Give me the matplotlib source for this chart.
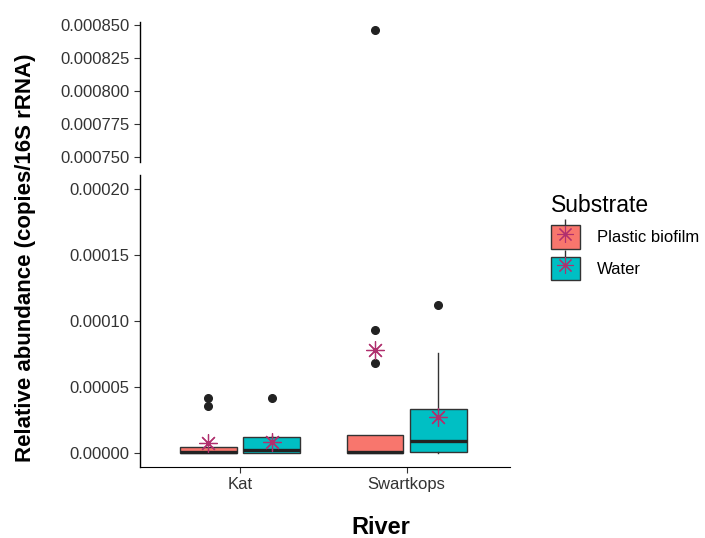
import numpy as np
import matplotlib.pyplot as plt
from matplotlib.patches import Patch
from matplotlib.lines import Line2D
from matplotlib.legend_handler import HandlerTuple

plt.rcParams['font.family'] = ['Liberation Sans', 'DejaVu Sans']

# data
rivers = ['Kat', 'Swartkops']
substrates = ['Plastic biofilm', 'Water']
colours = ['#F8766D', '#00BFC4']
mean_col = '#B0306E'

# box stats per river, per substrate
q1 = [[0.0, 0.0], [0.0, 0.8e-6]]
med = [[0.8e-6, 2.3e-6], [0.5e-6, 9.1e-6]]
q3 = [[4.6e-6, 1.2e-5], [1.4e-5, 3.35e-5]]
whislo = [[0.0, 0.0], [0.0, 0.0]]
whishi = [[4.6e-6, 1.3e-5], [1.4e-5, 7.6e-5]]
fliers = [[[4.2e-5, 3.6e-5], [4.2e-5]],
          [[9.3e-5, 6.8e-5, 0.000846], [0.000112]]]
means = [[7.6e-6, 8.4e-6], [7.8e-5, 2.7e-5]]

fig = plt.figure(figsize=(7.05, 5.38), dpi=100)
ax_top = fig.add_axes([0.1986, 0.699, 0.5248, 0.260])
ax = fig.add_axes([0.1986, 0.132, 0.5248, 0.5428])

dodge = 0.19
width = 0.34
for a in (ax_top, ax):
    for i, r in enumerate(rivers):
        for j, s in enumerate(substrates):
            pos = i + 1 + (j - 0.5) * 2 * dodge
            st = [dict(q1=q1[i][j], med=med[i][j], q3=q3[i][j],
                       whislo=whislo[i][j], whishi=whishi[i][j],
                       fliers=fliers[i][j])]
            a.bxp(st, positions=[pos], widths=width, patch_artist=True,
                  showcaps=False,
                  boxprops=dict(facecolor=colours[j], edgecolor='#333333', linewidth=1.0),
                  medianprops=dict(color='#222222', linewidth=2.4),
                  whiskerprops=dict(color='#333333', linewidth=1.0),
                  flierprops=dict(marker='o', markerfacecolor='#222222',
                                  markeredgecolor='#222222', markersize=5.5))
            a.plot(pos, means[i][j], marker=(8, 2, 0), markersize=13,
                   color=mean_col, markeredgewidth=0.9, zorder=5)
    a.set_xlim(0.4, 2.62)
    for sp in ('top', 'right'):
        a.spines[sp].set_visible(False)
    a.spines['left'].set_linewidth(1.0)
    a.tick_params(axis='y', labelsize=12, length=4, color='#333333', labelcolor='#333333')

ax_top.set_ylim(0.000746, 0.000852)
ax_top.set_yticks(np.arange(0.00075, 0.000851, 0.000025))
ax_top.yaxis.set_major_formatter(plt.FormatStrFormatter('%.6f'))
ax_top.spines['bottom'].set_visible(False)
ax_top.set_xticks([])

ax.set_ylim(-0.0000106, 0.000211)
ax.set_yticks(np.arange(0, 0.000201, 0.00005))
ax.yaxis.set_major_formatter(plt.FormatStrFormatter('%.5f'))
ax.set_xticks([1, 2])
ax.set_xticklabels(rivers)
ax.tick_params(axis='x', labelsize=12, length=4, color='#333333', labelcolor='#333333')

fig.text(0.036, 1 - 258 / 538, 'Relative abundance (copies/16S rRNA)', rotation=90,
         ha='center', va='center', fontsize=16, fontweight='bold')
fig.text(381 / 705, 1 - 527 / 538, 'River', ha='center', va='center',
         fontsize=17, fontweight='bold')

handles = []
for j in range(2):
    handles.append((Line2D([], [], marker='|', color='#333333', linestyle='none',
                           markersize=22, markeredgewidth=1.0),
                    Patch(facecolor=colours[j], edgecolor='#333333'),
                    Line2D([], [], marker=(8, 2, 0), color=mean_col,
                           linestyle='none', markersize=12, markeredgewidth=0.8)))
leg = fig.legend(handles, substrates, title='Substrate',
                 handler_map={tuple: HandlerTuple(ndivide=1)},
                 loc='upper left', bbox_to_anchor=(0.76, 0.667), frameon=False,
                 fontsize=12, title_fontsize=16.5, handlelength=1.75,
                 handleheight=1.75, labelspacing=0.5, handletextpad=1.0)
leg._legend_box.align = 'left'

fig.savefig('out.png', dpi=100)
